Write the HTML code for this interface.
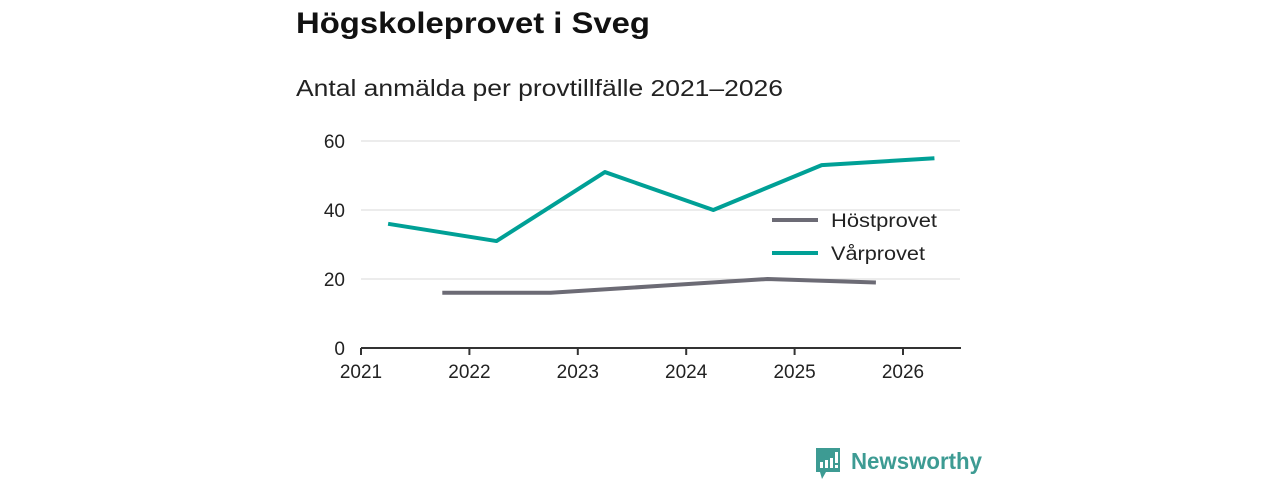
<!DOCTYPE html>
<html><head><meta charset="utf-8"><style>
body{margin:0;width:1280px;height:480px;background:#fff;overflow:hidden;font-family:"Liberation Sans",sans-serif;}
svg{display:block}
</style></head><body>
<svg id="chart" width="1280" height="480">
<text x="296" y="33" font-size="30" font-weight="bold" fill="#111" textLength="354" lengthAdjust="spacingAndGlyphs">Högskoleprovet i Sveg</text>
<text x="296" y="96" font-size="23" fill="#222" textLength="487" lengthAdjust="spacingAndGlyphs">Antal anmälda per provtillfälle 2021–2026</text>
<g id="grid"></g>
<g id="axes"></g>
<g id="series"></g>
<g>
<line x1="772" y1="220" x2="818" y2="220" stroke="#6c6b75" stroke-width="4"/>
<text x="831" y="227" font-size="19" fill="#222" textLength="106" lengthAdjust="spacingAndGlyphs">Höstprovet</text>
<line x1="772" y1="253" x2="818" y2="253" stroke="#00a096" stroke-width="4"/>
<text x="831" y="260" font-size="19" fill="#222" textLength="94" lengthAdjust="spacingAndGlyphs">Vårprovet</text>
</g>
<g>
<path d="M816 448 h24 v24 h-14 l-4 7 l-2-7 h-4 z" fill="#3d9b93"/>
<rect x="820" y="462" width="3" height="6" fill="#fff"/><rect x="825" y="460" width="3" height="8" fill="#fff"/><rect x="830" y="458" width="3" height="10" fill="#fff"/><rect x="835" y="452" width="3" height="11" fill="#fff"/><rect x="835" y="465" width="3" height="3" fill="#fff"/>
<text x="851" y="469" font-size="23" font-weight="bold" fill="#3d9b93" textLength="131" lengthAdjust="spacingAndGlyphs">Newsworthy</text>
</g>
</svg>
<script>
const yTicks=[0,20,40,60];
const xTicks=[2021,2022,2023,2024,2025,2026];
const hostX=[2021.75,2022.75,2023.75,2024.75,2025.75];
const hostY=[16,16,18,20,19];
const varX=[2021.25,2022.25,2023.25,2024.25,2025.25,2026.29];
const varY=[36,31,51,40,53,55];
const NS='http://www.w3.org/2000/svg';
const xs=v=>361+(v-2021)*108.4;
const ys=v=>348-v*3.45;
function mk(tag,attrs,parent){const e=document.createElementNS(NS,tag);for(const k in attrs)e.setAttribute(k,attrs[k]);document.getElementById(parent).appendChild(e);return e;}
yTicks.forEach(t=>{
 if(t>0){const l=mk('line',{x1:361,x2:960,y1:ys(t),y2:ys(t),stroke:'#d8d8d8','stroke-width':1},'grid');
 
 }
 const tx=mk('text',{x:345,y:ys(t)+7,'font-size':19,fill:'#222','text-anchor':'end'},'axes');tx.textContent=t;
 
 
});
const ax=mk('line',{x1:361,x2:961,y1:348,y2:348,stroke:'#333','stroke-width':2},'axes');


xTicks.forEach(t=>{
 const tk=mk('line',{x1:xs(t),x2:xs(t),y1:348,y2:355,stroke:'#333','stroke-width':2},'axes');
 
 
 const tx=mk('text',{x:xs(t),y:378,'font-size':19,fill:'#222','text-anchor':'middle'},'axes');tx.textContent=t;
 
 
});
function line(X,Y,c,name){
 const p=mk('polyline',{points:X.map((x,i)=>xs(x)+','+ys(Y[i])).join(' '),fill:'none',stroke:c,'stroke-width':4,'stroke-linejoin':'round'},'series');
 
 
}
line(hostX,hostY,'#6c6b75','line-hostprovet');
line(varX,varY,'#00a096','line-varprovet');
</script>
</body></html>
